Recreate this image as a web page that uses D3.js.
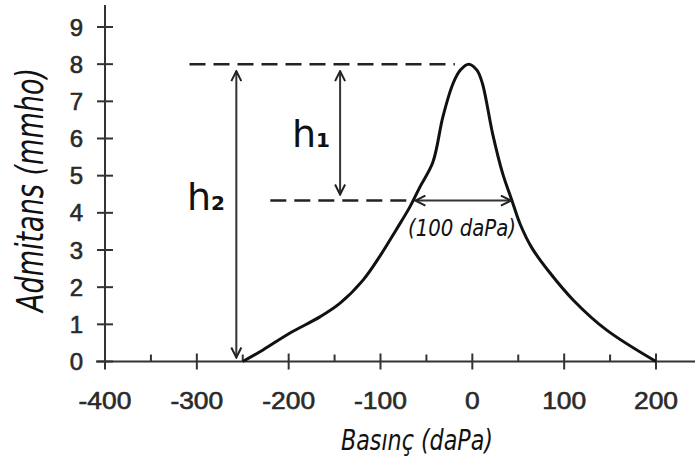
<!DOCTYPE html>
<html><head><meta charset="utf-8">
<script src="https://cdn.jsdelivr.net/npm/d3@7"></script>
<style>html,body{margin:0;padding:0;background:#fff;}svg{display:block;}</style>
</head><body>
<svg id="chart" width="695" height="468"></svg>
<script>
// ---- data ----
const pressure = [-250,-228,-199,-166,-144,-119,-101,-83,-68,-57,-43,-32,-21,-13,-4,5,11,22,33,43,52,65,84,110,146,200];
const admittance = [0,0.31,0.76,1.2,1.57,2.19,2.82,3.54,4.16,4.7,5.36,6.59,7.48,7.84,8.0,7.84,7.48,6.14,5.06,4.34,3.7,3.05,2.4,1.65,0.85,0];
const xTicks = [-400,-300,-200,-100,0,100,200];
const xMinorTicks = [-350,-250,-150,-50,50,150];
const yTicks = [0,1,2,3,4,5,6,7,8,9];
const peakValue = 8;
const halfValue = 4.33;
const dashTop = [-308,-19];
const dashHalf = [-220,-63];
const h2X = -257;
const h1X = -144;
const widthArrow = [-62,42];
const xTitle = "Basınç (daPa)";
const yTitle = "Admitans (mmho)";
const widthLabel = "(100 daPa)";

const svg = d3.select("#chart");
const x = d3.scaleLinear().domain([-400,200]).range([105,656]);
const y = d3.scaleLinear().domain([0,9]).range([361.5,27]);
const axisColor = "#333";
const labelFont = "'Liberation Sans', Arial, sans-serif";
const handFont = "'DejaVu Sans', sans-serif";

// axes lines
svg.append("line").attr("x1",96).attr("x2",695).attr("y1",y(0)).attr("y2",y(0))
  .attr("stroke",axisColor).attr("stroke-width",2);
svg.append("line").attr("x1",x(-400)).attr("x2",x(-400)).attr("y1",5).attr("y2",369)
  .attr("stroke",axisColor).attr("stroke-width",2);

// x ticks
const gx = svg.append("g");
gx.selectAll("line.maj").data(xTicks).join("line")
  .attr("x1",d=>x(d)).attr("x2",d=>x(d)).attr("y1",y(0)-8).attr("y2",y(0)+8)
  .attr("stroke",axisColor).attr("stroke-width",2);
gx.selectAll("line.min").data(xMinorTicks).join("line")
  .attr("x1",d=>x(d)).attr("x2",d=>x(d)).attr("y1",y(0)-7).attr("y2",y(0))
  .attr("stroke",axisColor).attr("stroke-width",2);
gx.selectAll("text").data(xTicks).join("text")
  .attr("x",d=>x(d)).attr("y",409).attr("text-anchor","middle")
  .attr("font-family",labelFont).attr("font-size",24).attr("fill","#2a2a2a")
  .attr("stroke","#2a2a2a").attr("stroke-width",0.6)
  .attr("transform",d=>`translate(${x(d)},0) scale(1.1,1) translate(${-x(d)},0)`)
  .text(d=>d);

// y ticks
const gy = svg.append("g");
gy.selectAll("line").data(yTicks).join("line")
  .attr("x1",x(-400)-8).attr("x2",x(-400)+8).attr("y1",d=>y(d)).attr("y2",d=>y(d))
  .attr("stroke",axisColor).attr("stroke-width",2);
gy.selectAll("text").data(yTicks).join("text")
  .attr("x",83).attr("y",d=>y(d)+8.5).attr("text-anchor","end")
  .attr("font-family",labelFont).attr("font-size",24).attr("fill","#2a2a2a")
  .attr("stroke","#2a2a2a").attr("stroke-width",0.6)
  .text(d=>d);

// fit helper
function fit(sel, target, base){
  const len = sel.node().getComputedTextLength();
  if(len>0) sel.attr("font-size", base*target/len);
}

// axis titles
const xt = svg.append("text").attr("text-anchor","middle")
  .attr("transform","translate(417,450) scale(1,1.25)")
  .attr("font-family",handFont).attr("font-style","italic").attr("font-size",22)
  .attr("fill","#111").text(xTitle);
fit(xt,152,22);
const yt = svg.append("text").attr("transform","translate(43,190) rotate(-90) scale(1,1.4)")
  .attr("text-anchor","middle")
  .attr("font-family",handFont).attr("font-style","italic").attr("font-size",28)
  .attr("fill","#111").text(yTitle);
fit(yt,244,28);

// dashed lines
svg.append("line").attr("x1",x(dashTop[0])).attr("x2",x(dashTop[1]))
  .attr("y1",y(peakValue)).attr("y2",y(peakValue))
  .attr("stroke","#222").attr("stroke-width",2.5).attr("stroke-dasharray","16,8");
svg.append("line").attr("x1",x(dashHalf[0])).attr("x2",x(dashHalf[1]))
  .attr("y1",y(halfValue)).attr("y2",y(halfValue))
  .attr("stroke","#222").attr("stroke-width",2.5).attr("stroke-dasharray","16,8");

// curve
const line = d3.line().x((d,i)=>x(pressure[i])).y(d=>y(d)).curve(d3.curveCatmullRom.alpha(0.5));
svg.append("path").attr("d",line(admittance)).attr("fill","none")
  .attr("stroke","#111").attr("stroke-width",3).attr("stroke-linejoin","round");

// arrows
const defs = svg.append("defs");
defs.append("marker").attr("id","ah").attr("viewBox","0 0 12 12").attr("refX",11).attr("refY",6)
  .attr("markerWidth",12).attr("markerHeight",12).attr("markerUnits","userSpaceOnUse")
  .attr("orient","auto-start-reverse")
  .append("path").attr("d","M1,1 L11,6 L1,11").attr("fill","none").attr("stroke","#222").attr("stroke-width",2);

function arrow(x1,y1,x2,y2){
  svg.append("line").attr("x1",x1).attr("y1",y1).attr("x2",x2).attr("y2",y2)
    .attr("stroke","#333").attr("stroke-width",2)
    .attr("marker-start","url(#ah)").attr("marker-end","url(#ah)");
}
arrow(x(h2X), y(peakValue)+7, x(h2X), y(0)-4);
arrow(x(h1X), y(peakValue)+7, x(h1X), y(halfValue)-6);
arrow(x(widthArrow[0]), y(halfValue), x(widthArrow[1]), y(halfValue));

// labels
function hLabel(px,py,sub){
  const t = svg.append("text").attr("x",px).attr("y",py)
    .attr("font-family",handFont).attr("font-size",38).attr("fill","#111");
  t.append("tspan").text("h");
  t.append("tspan").attr("font-size",20).attr("font-weight","bold").text(sub);
}
hLabel(292,147,"1");
hLabel(187,210,"2");
const wl = svg.append("text").attr("text-anchor","middle")
  .attr("transform","translate(462,236) scale(1,1.2)")
  .attr("font-family",handFont).attr("font-style","italic").attr("font-size",17)
  .attr("fill","#111").text(widthLabel);
fit(wl,108,17);
</script>
</body></html>
